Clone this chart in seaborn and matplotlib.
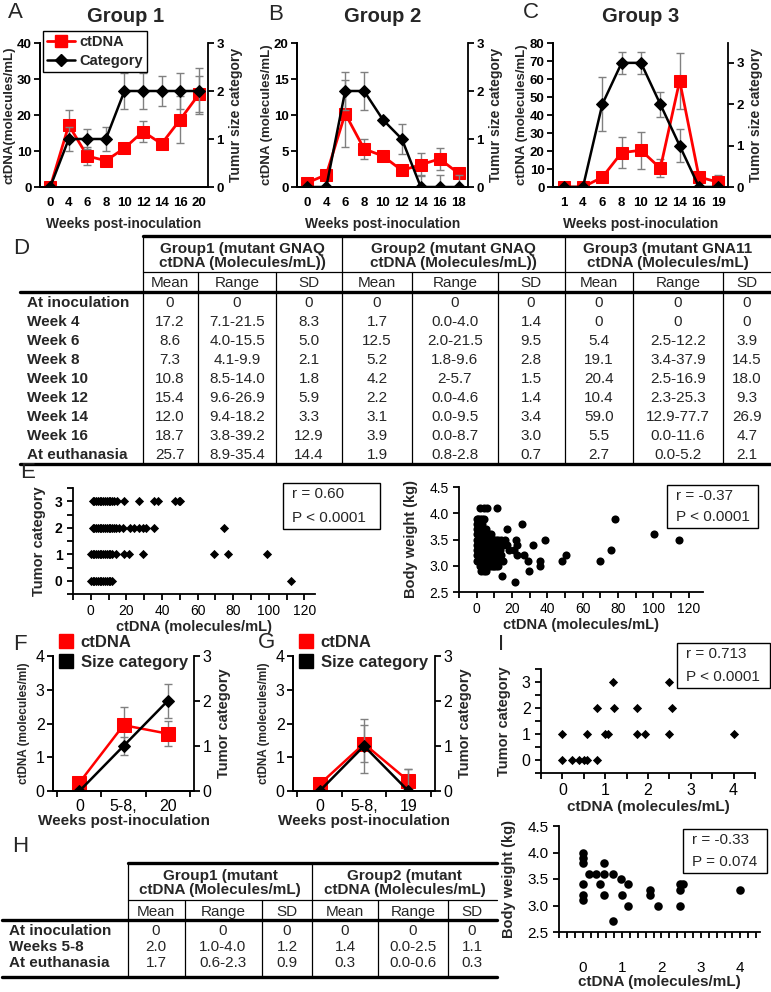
import numpy as np
import pandas as pd
import matplotlib
matplotlib.use('Agg')
import matplotlib.pyplot as plt
from matplotlib.lines import Line2D
from matplotlib.ticker import MultipleLocator
import seaborn as sns

W, H = 771, 992

# ---------------- data ----------------
# A-C time courses
weeks1 = ['0', '4', '6', '8', '10', '12', '14', '16', '20']
ct1 = [0, 17.2, 8.6, 7.3, 10.8, 15.4, 12.0, 18.7, 25.7]
ct1_err = [0, 4.3, 2.4, 0.8, 1.0, 3.0, 1.3, 6.5, 5.0]
cat1 = [0, 1, 1, 1, 2, 2, 2, 2, 2]
cat1_err = [0, 0.25, 0.2, 0.25, 0.38, 0.38, 0.32, 0.38, 0.48]

weeks2 = ['0', '4', '6', '8', '10', '12', '14', '16', '18']
ct2 = [0.6, 1.7, 10.2, 5.3, 4.3, 2.3, 3.1, 3.9, 1.9]
ct2_err = [0, 0, 4.7, 1.4, 0, 0, 1.6, 1.5, 0.4]
cat2 = [0, 0, 2, 2, 1.4, 1.0, 0, 0, 0]
cat2_err = [0, 0, 0.4, 0.4, 0, 0.32, 0.25, 0.25, 0.25]

weeks3 = ['1', '4', '6', '8', '10', '12', '14', '16', '19']
ct3 = [0, 0, 5.4, 19.1, 20.4, 10.4, 59.0, 5.5, 2.7]
ct3_err = [0, 0, 0, 8.5, 10.4, 5.1, 15.5, 1.5, 4.1]
cat3 = [0, 0, 2, 3, 3, 2, 1, 0, 0]
cat3_err = [0, 0, 0.65, 0.27, 0.27, 0.3, 0.4, 0, 0]

# D table
d_rows = ['At inoculation', 'Week 4', 'Week 6', 'Week 8', 'Week 10', 'Week 12',
          'Week 14', 'Week 16', 'At euthanasia']
d_groups = ['Group1 (mutant GNAQ\nctDNA (Molecules/mL))',
            'Group2 (mutant GNAQ\nctDNA (Molecules/mL))',
            'Group3 (mutant GNA11\nctDNA (Molecules/mL)']
d_g1_mean = ['0', '17.2', '8.6', '7.3', '10.8', '15.4', '12.0', '18.7', '25.7']
d_g1_range = ['0', '7.1-21.5', '4.0-15.5', '4.1-9.9', '8.5-14.0', '9.6-26.9', '9.4-18.2', '3.8-39.2', '8.9-35.4']
d_g1_sd = ['0', '8.3', '5.0', '2.1', '1.8', '5.9', '3.3', '12.9', '14.4']
d_g2_mean = ['0', '1.7', '12.5', '5.2', '4.2', '2.2', '3.1', '3.9', '1.9']
d_g2_range = ['0', '0.0-4.0', '2.0-21.5', '1.8-9.6', '2-5.7', '0.0-4.6', '0.0-9.5', '0.0-8.7', '0.8-2.8']
d_g2_sd = ['0', '1.4', '9.5', '2.8', '1.5', '1.4', '3.4', '3.0', '0.7']
d_g3_mean = ['0', '0', '5.4', '19.1', '20.4', '10.4', '59.0', '5.5', '2.7']
d_g3_range = ['0', '0', '2.5-12.2', '3.4-37.9', '2.5-16.9', '2.3-25.3', '12.9-77.7', '0.0-11.6', '0.0-5.2']
d_g3_sd = ['0', '0', '3.9', '14.5', '18.0', '9.3', '26.9', '4.7', '2.1']

# E scatter: tumor category vs ctDNA
e_x_cat3 = [1, 2, 3, 4, 5, 6, 7, 8, 9, 10, 11, 12, 13, 15, 18.6, 26.9, 35.4, 37.9, 47.5, 49.4, 50.4]
e_x_cat2 = [1, 2, 3, 4, 5, 6, 7, 8, 9, 10, 11, 12, 13, 14, 16, 18, 21.9, 24.4, 26.9, 29.2, 31.2, 35.4, 75]
e_x_cat1 = [0, 1, 2, 3, 4, 5, 6, 7, 8, 9, 10, 11, 12, 14.2, 18.6, 21.5, 29.2, 69, 76.9, 98.8]
e_x_cat0 = [0, 1, 2, 3, 4, 5, 6, 7, 8, 9, 10, 11, 12, 112.3]

# E scatter: body weight vs ctDNA
bw_x_41 = [2, 4, 6, 11.5]
bw_x_39 = [0, 1, 2, 3, 4, 78]
bw_x_38 = [0, 1, 2, 3, 25.6]
bw_x_37 = [0, 1, 2, 3, 4, 5, 17]
bw_x_36 = [0, 1, 2, 3, 4, 5, 6, 7, 8, 100.4]
bw_x_35 = [0, 1, 2, 3, 4, 5, 6, 7, 8, 9, 10, 11, 12, 14, 16, 22, 38.5, 114.4]
bw_x_34 = [0, 1, 2, 3, 4, 5, 6, 7, 8, 9, 10, 11, 12, 15, 17.3, 22.7, 31.7]
bw_x_33 = [0, 1, 2, 3, 4, 5, 6, 7, 8, 9, 10, 11, 12, 13, 18, 21, 76]
bw_x_32 = [0, 1, 2, 3, 4, 5, 6, 7, 8, 9, 10, 11, 12, 14, 22.7, 27, 50.4]
bw_x_31 = [0, 1, 2, 3, 4, 5, 6, 7, 8, 9, 10, 11, 12, 15, 28.8, 36, 48, 70]
bw_x_30 = [2, 3, 4, 5, 6, 7, 8, 9, 10, 11, 12, 35.6]
bw_x_29 = [2.5, 4, 5, 29.8]
bw_x_28 = [14.4]
bw_x_27 = [21.7]

# F / G
weeks_f = ['0', '5-8,', '20']
f_ct = [0.25, 1.95, 1.7]
f_ct_err = [0, 0.55, 0.38]
f_cat = [0, 1, 2]
f_cat_err = [0, 0.2, 0.37]

weeks_g = ['0', '5-8,', '19']
g_ct = [0.2, 1.4, 0.3]
g_ct_err = [0, 0.55, 0.35]
g_cat = [0, 1, 0]
g_cat_err = [0, 0.6, 0.5]

# H table
h_rows = ['At inoculation', 'Weeks 5-8', 'At euthanasia']
h_groups = ['Group1 (mutant\nctDNA (Molecules/mL)', 'Group2 (mutant\nctDNA (Molecules/mL)']
h_g1_mean = ['0', '2.0', '1.7']
h_g1_range = ['0', '1.0-4.0', '0.6-2.3']
h_g1_sd = ['0', '1.2', '0.9']
h_g2_mean = ['0', '1.4', '0.3']
h_g2_range = ['0', '0.0-2.5', '0.0-0.6']
h_g2_sd = ['0', '1.1', '0.3']

# I scatter
i_x = [0, 0.23, 0.39, 0.5, 0.57, 0.8, 0, 0.57, 1.0, 1.06, 1.75, 1.94, 2.5, 4.0, 0.8, 1.2, 1.75, 2.56, 1.19, 2.5]
i_y = [0, 0, 0, 0, 0, 0, 1, 1, 1, 1, 1, 1, 1, 1, 2, 2, 2, 2, 3, 3]

# bottom-right scatter: body weight vs ctDNA
br_x = [0, 0, 0, 0, 0, 0, 0.17, 0.34, 0.55, 0.55, 0.45, 0.55, 0.76, 0.76, 0.97, 1.0, 1.14, 1.16,
        1.71, 1.71, 1.92, 2.47, 2.47, 2.47, 2.55, 4.0]
br_y = [4.0, 3.9, 3.8, 3.4, 3.2, 3.1, 3.6, 3.6, 3.6, 3.8, 3.4, 3.2, 3.6, 2.7, 3.5, 3.2, 3.4, 3.0,
        3.3, 3.2, 3.0, 3.4, 3.3, 3.0, 3.4, 3.3]

# ---------------- style ----------------
sns.set_style('ticks')
plt.rcParams['font.family'] = ['Liberation Sans', 'DejaVu Sans']
plt.rcParams['axes.linewidth'] = 1.3
plt.rcParams['xtick.major.width'] = 1.3
plt.rcParams['ytick.major.width'] = 1.3
plt.rcParams['xtick.minor.width'] = 1.3
plt.rcParams['ytick.minor.width'] = 1.3
plt.rcParams['xtick.color'] = 'black'
plt.rcParams['ytick.color'] = 'black'
plt.rcParams['axes.edgecolor'] = 'black'

fig = plt.figure(figsize=(W / 100, H / 100), dpi=100)


def rect(l, t, r, b):
    return [l / W, 1 - b / H, (r - l) / W, (b - t) / H]


def bold_ticks(ax):
    for t in ax.get_xticklabels() + ax.get_yticklabels():
        t.set_fontweight('bold')


def time_panel(box, labels, ct, ct_err, cat, cat_err, ymax_l, ystep, ymax_r, ylab_l, ylab_r):
    ax = fig.add_axes(rect(*box))
    ax.set_facecolor('none')
    pos = np.arange(len(labels))
    df = pd.DataFrame({'pos': pos, 'ct': ct, 'cat': cat})
    ax.errorbar(pos, ct, yerr=ct_err, fmt='none', ecolor='#808080', elinewidth=1, capsize=3, zorder=1)
    sns.lineplot(data=df, x='pos', y='ct', ax=ax, color='red', lw=2, marker='s', markersize=9,
                 markeredgecolor='red', legend=False, zorder=3)
    ax.set_ylim(0, ymax_l)
    ax.yaxis.set_major_locator(MultipleLocator(ystep))
    ax.set_xlim(-0.55, len(labels) - 0.5)
    ax.set_xticks(pos, labels)
    ax.tick_params(axis='x', length=0, labelsize=9.5, pad=7)
    ax.tick_params(axis='y', length=4, labelsize=9.5, pad=2)
    ax.set_xlabel('Weeks post-inoculation', fontsize=10, fontweight='bold', labelpad=6)
    ax.set_ylabel(ylab_l, fontsize=9.5, fontweight='bold', labelpad=1)
    ax.spines['top'].set_visible(False)
    ax.spines['right'].set_visible(False)
    bold_ticks(ax)

    ax2 = ax.twinx()
    ax2.errorbar(pos, cat, yerr=cat_err, fmt='none', ecolor='#808080', elinewidth=1, capsize=3, zorder=1)
    sns.lineplot(data=df, x='pos', y='cat', ax=ax2, color='black', lw=1.8, marker='D', markersize=6,
                 markeredgecolor='black', legend=False, zorder=3)
    ax2.set_ylim(0, ymax_r)
    ax2.set_yticks([0, 1, 2, 3])
    ax2.tick_params(axis='y', length=4, labelsize=9.5, pad=2)
    ax2.set_ylabel(ylab_r, fontsize=10, fontweight='bold', labelpad=4)
    ax2.spines['top'].set_visible(False)
    bold_ticks(ax2)
    return ax, ax2


axA, axA2 = time_panel((40, 43, 208, 187), weeks1, ct1, ct1_err, cat1, cat1_err, 40, 10, 3,
                       'ctDNA(molecules/mL)', 'Tumur size category')
axB, axB2 = time_panel((297, 43, 468, 187), weeks2, ct2, ct2_err, cat2, cat2_err, 20, 5, 3,
                       'ctDNA (molecules/mL)', 'Tumur size category')
axC, axC2 = time_panel((553, 43, 728, 187), weeks3, ct3, ct3_err, cat3, cat3_err, 80, 10, 3.48,
                       'ctDNA (molecules/mL)', 'Tumor size category')

handles = [Line2D([], [], color='red', lw=2, marker='s', markersize=9),
           Line2D([], [], color='black', lw=1.8, marker='D', markersize=6)]
fig.legend(handles, ['ctDNA', 'Category'], loc='upper left', bbox_to_anchor=(43 / W, 1 - 31 / H),
           prop={'weight': 'bold', 'size': 10.5}, frameon=True, fancybox=False, edgecolor='black',
           framealpha=1, handlelength=1.9, borderpad=0.3, labelspacing=0.3, borderaxespad=0,
           handletextpad=0.3)


def scatter_panel(box, x, y, marker, s):
    ax = fig.add_axes(rect(*box))
    ax.set_facecolor('none')
    sns.scatterplot(x=x, y=y, ax=ax, marker=marker, s=s, color='black', edgecolor='black',
                    linewidth=0, legend=False)
    ax.spines['top'].set_visible(False)
    ax.spines['right'].set_visible(False)
    ax.tick_params(which='both', length=4, direction='out')
    return ax


# E left
e_x = e_x_cat3 + e_x_cat2 + e_x_cat1 + e_x_cat0
e_y = [3] * len(e_x_cat3) + [2] * len(e_x_cat2) + [1] * len(e_x_cat1) + [0] * len(e_x_cat0)
axE1 = scatter_panel((73, 488, 315, 594), e_x, e_y, 'D', 22)
axE1.set_xlim(-10, 126)
axE1.set_ylim(-0.5, 3.5)
axE1.set_xticks([0, 20, 40, 60, 80, 100, 120])
axE1.xaxis.set_minor_locator(MultipleLocator(10))
axE1.set_yticks([0, 1, 2, 3])
axE1.yaxis.set_minor_locator(MultipleLocator(0.5))
axE1.tick_params(labelsize=10)
for t in axE1.get_yticklabels():
    t.set_fontweight('bold')
axE1.set_xlabel('ctDNA (molecules/mL)', fontsize=10.5, fontweight='bold', labelpad=1)
axE1.set_ylabel('Tumor category', fontsize=10.5, fontweight='bold', labelpad=6)

# E right
bw_groups = [(4.1, bw_x_41), (3.9, bw_x_39), (3.8, bw_x_38), (3.7, bw_x_37), (3.6, bw_x_36),
             (3.5, bw_x_35), (3.4, bw_x_34), (3.3, bw_x_33), (3.2, bw_x_32), (3.1, bw_x_31),
             (3.0, bw_x_30), (2.9, bw_x_29), (2.8, bw_x_28), (2.7, bw_x_27)]
bw_x = [x for yv, xs in bw_groups for x in xs]
bw_y = [yv for yv, xs in bw_groups for x in xs]
axE2 = scatter_panel((459, 487, 703, 592), bw_x, bw_y, 'o', 34)
axE2.set_xlim(-10, 128)
axE2.set_ylim(2.5, 4.5)
axE2.set_xticks([0, 20, 40, 60, 80, 100, 120])
axE2.xaxis.set_minor_locator(MultipleLocator(10))
axE2.set_yticks([2.5, 3.0, 3.5, 4.0, 4.5])
axE2.yaxis.set_major_formatter(matplotlib.ticker.FormatStrFormatter('%.1f'))
axE2.tick_params(labelsize=10)
axE2.set_xlabel('ctDNA (molecules/mL)', fontsize=10.5, fontweight='bold', labelpad=1)
axE2.set_ylabel('Body weight (kg)', fontsize=10.5, fontweight='bold', labelpad=8)


def small_course(box, labels, ct, ct_err, cat, cat_err):
    ax = fig.add_axes(rect(*box))
    ax.set_facecolor('none')
    pos = np.arange(len(labels))
    df = pd.DataFrame({'pos': pos, 'ct': ct, 'cat': cat})
    ax.errorbar(pos, ct, yerr=ct_err, fmt='none', ecolor='#808080', elinewidth=1, capsize=3, zorder=1)
    sns.lineplot(data=df, x='pos', y='ct', ax=ax, color='red', lw=1.8, marker='s', markersize=10,
                 markeredgecolor='red', legend=False)
    ax.set_ylim(0, 4)
    ax.set_yticks([0, 1, 2, 3, 4])
    ax.set_xlim(-0.6, 2.6)
    ax.set_xticks(pos, labels)
    ax.xaxis.set_minor_locator(matplotlib.ticker.FixedLocator([-0.5, 0.5, 1.5, 2.5]))
    ax.tick_params(axis='x', which='major', length=0, labelsize=11.5, pad=6)
    ax.tick_params(axis='x', which='minor', length=4)
    ax.tick_params(axis='y', length=4, labelsize=11.5, pad=2)
    ax.set_xlabel('Weeks post-inoculation', fontsize=11, fontweight='bold', labelpad=0)
    ax.set_ylabel('ctDNA (molecules/ml)', fontsize=8.5, fontweight='bold', labelpad=4)
    ax.spines['top'].set_visible(False)
    ax.spines['right'].set_visible(False)

    ax2 = ax.twinx()
    ax2.errorbar(pos, cat, yerr=cat_err, fmt='none', ecolor='#808080', elinewidth=1, capsize=3, zorder=1)
    sns.lineplot(data=df, x='pos', y='cat', ax=ax2, color='black', lw=1.8, marker='D', markersize=6,
                 markeredgecolor='black', legend=False)
    ax2.set_ylim(0, 3)
    ax2.set_yticks([0, 1, 2, 3])
    ax2.tick_params(axis='y', length=4, labelsize=11.5, pad=2)
    ax2.set_ylabel('Tumor category', fontsize=10.5, fontweight='bold', labelpad=4)
    ax2.spines['top'].set_visible(False)
    h = [Line2D([], [], color='red', marker='s', linestyle='none', markersize=10),
         Line2D([], [], color='black', marker='s', linestyle='none', markersize=10)]
    fig.legend(h, ['ctDNA', 'Size category'], loc='upper left',
               bbox_to_anchor=((box[0] + 6) / W, 1 - 635 / H), frameon=False,
               prop={'weight': 'bold', 'size': 12}, handlelength=0.8, handletextpad=0.5,
               labelspacing=0.3, borderpad=0, borderaxespad=0)
    return ax, ax2


axF, axF2 = small_course((53, 656, 194, 791), weeks_f, f_ct, f_ct_err, f_cat, f_cat_err)
axG, axG2 = small_course((293, 656, 435, 791), weeks_g, g_ct, g_ct_err, g_cat, g_cat_err)

# I
axI = scatter_panel((541, 669, 755, 773), i_x, i_y, 'D', 22)
axI.set_xlim(-0.5, 4.5)
axI.set_ylim(-0.5, 3.5)
axI.set_xticks([0, 1, 2, 3, 4])
axI.xaxis.set_minor_locator(MultipleLocator(0.5))
axI.set_yticks([0, 1, 2, 3])
axI.yaxis.set_minor_locator(MultipleLocator(0.5))
axI.tick_params(labelsize=11.5)
axI.set_xlabel('ctDNA (molecules/mL)', fontsize=11, fontweight='bold', labelpad=1)
axI.set_ylabel('Tumor category', fontsize=10.5, fontweight='bold', labelpad=8)

# bottom-right
axJ = scatter_panel((559, 826, 760, 932), br_x, br_y, 'o', 38)
axJ.set_xlim(-0.6, 4.5)
axJ.set_ylim(2.5, 4.5)
axJ.set_xticks([0, 1, 2, 3, 4])
axJ.xaxis.set_minor_locator(MultipleLocator(0.2))
axJ.set_yticks([2.5, 3.0, 3.5, 4.0, 4.5])
axJ.yaxis.set_major_formatter(matplotlib.ticker.FormatStrFormatter('%.1f'))
axJ.tick_params(labelsize=11)
axJ.tick_params(axis='x', which='major', pad=17)
axJ.set_xlabel('ctDNA (molecules/mL)', fontsize=11, fontweight='bold', labelpad=0)
axJ.set_ylabel('Body weight (kg)', fontsize=10.5, fontweight='bold', labelpad=8)

# ---------------- overlay: letters, titles, tables, stat boxes ----------------
ov = fig.add_axes([0, 0, 1, 1])
ov.set_xlim(0, W)
ov.set_ylim(H, 0)
ov.axis('off')

for letter, x, y in [('A', 8, 13), ('B', 268, 15), ('C', 523, 13), ('D', 13, 249), ('E', 20, 472),
                     ('F', 13, 645), ('G', 258, 643), ('H', 12, 847), ('I', 498, 645)]:
    ov.text(x, y, letter, fontsize=16, ha='left', va='center')

for title, x in [('Group 1', 126), ('Group 2', 383), ('Group 3', 641)]:
    ov.text(x, 17, title, fontsize=14.5, fontweight='bold', ha='center', va='center')


def stat_box(l, t, r, b, lines):
    ov.add_patch(plt.Rectangle((l, t), r - l, b - t, fill=False, edgecolor='black', lw=1))
    n = len(lines)
    for k, s in enumerate(lines):
        ov.text(l + 9, t + (b - t) * (k + 0.5) / n, s, fontsize=11, ha='left', va='center')


stat_box(283, 483, 380, 529, ['r = 0.60', 'P < 0.0001'])
stat_box(667, 485, 758, 528, ['r = -0.37', 'P < 0.0001'])
stat_box(677, 643, 770, 688, ['r = 0.713', 'P < 0.0001'])
stat_box(683, 829, 767, 873, ['r = -0.33', 'P = 0.074'])


def draw_table(x_lab, x_cols, x_seps, group_seps, y_top, y_hdr, y_sub, y_mean, y_thick, y_rows, y_bot,
               x_right, groups, rows, cols, fs):
    thick, thin = 2.4, 0.9
    ov.plot([x_seps[0], x_right], [y_top, y_top], color='black', lw=thick)
    ov.plot([x_seps[0], x_right], [y_sub, y_sub], color='black', lw=thin)
    ov.plot([x_lab - 7, x_right], [y_thick, y_thick], color='black', lw=thick)
    ov.plot([x_lab - 7, x_right], [y_bot, y_bot], color='black', lw=thick)
    for xs in group_seps:
        ov.plot([xs, xs], [y_top, y_bot], color='black', lw=thin)
    for xs in x_seps[1:]:
        if xs not in group_seps:
            ov.plot([xs, xs], [y_sub, y_bot], color='black', lw=thin)
    for g, name in enumerate(groups):
        xc = (x_seps[3 * g] + x_seps[3 * g + 3]) / 2 if 3 * g + 3 < len(x_seps) else (x_seps[3 * g] + x_right) / 2
        ov.text(xc, y_hdr, name, fontsize=fs, fontweight='bold', ha='center', va='center',
                linespacing=1.05)
    for k, xc in enumerate(x_cols):
        ov.text(xc, y_mean, ['Mean', 'Range', 'SD'][k % 3], fontsize=fs, ha='center', va='center')
    for r, name in enumerate(rows):
        ov.text(x_lab, y_rows[r], name, fontsize=fs, fontweight='bold', ha='left', va='center')
        for k, xc in enumerate(x_cols):
            ov.text(xc, y_rows[r], cols[k][r], fontsize=fs, ha='center', va='center')


d_seps = [143, 198, 276, 342, 412, 498, 565, 633, 723]
d_centers = [170, 237, 309, 377, 455, 531, 599, 678, 747]
draw_table(27, d_centers, d_seps, [143, 342, 565], 236, 256, 272, 283, 292,
           [303 + 19 * k for k in range(len(d_rows))], 464, 771, d_groups, d_rows,
           [d_g1_mean, d_g1_range, d_g1_sd, d_g2_mean, d_g2_range, d_g2_sd, d_g3_mean, d_g3_range, d_g3_sd],
           11)

h_seps = [128, 185, 262, 312, 378, 448]
h_centers = [156, 223, 287, 345, 413, 472]
draw_table(9, h_centers, h_seps, [128, 312], 863, 883, 900, 912, 920,
           [931, 947, 963], 977, 497, h_groups, h_rows,
           [h_g1_mean, h_g1_range, h_g1_sd, h_g2_mean, h_g2_range, h_g2_sd], 11)

fig.savefig('out.png', dpi=100)
